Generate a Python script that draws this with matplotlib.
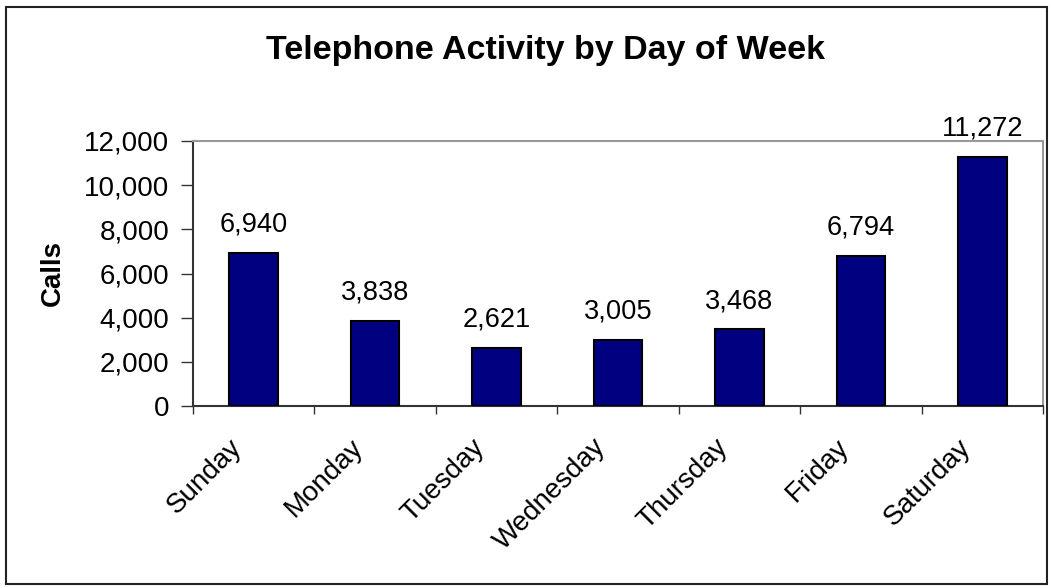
import matplotlib
matplotlib.use("Agg")
import matplotlib.pyplot as plt
import matplotlib.transforms as mtransforms
from matplotlib.patches import Rectangle
from matplotlib.ticker import FuncFormatter, MultipleLocator

days = ["Sunday", "Monday", "Tuesday", "Wednesday", "Thursday", "Friday", "Saturday"]
calls = [6940, 3838, 2621, 3005, 3468, 6794, 11272]

plt.rcParams['font.family'] = ['Liberation Sans', 'DejaVu Sans']

W, H = 1052, 588
fig = plt.figure(figsize=(W / 100, H / 100), dpi=100)
ax = fig.add_axes([193 / W, 1 - 406 / H, (1043 - 193) / W, (406 - 141) / H])

x = list(range(len(days)))
bars = ax.bar(x, calls, width=0.40, color="#000080", edgecolor="black", linewidth=1.5, zorder=3)

ax.set_xlim(-0.5, len(days) - 0.5)
ax.set_ylim(0, 12000)
ax.yaxis.set_major_locator(MultipleLocator(2000))
ax.yaxis.set_major_formatter(FuncFormatter(lambda v, p: f"{int(v):,}"))

FS = 20
for xi, v in zip(x, calls):
    ax.annotate(f"{v:,}", (xi, v), xytext=(0, 11), textcoords="offset points",
                ha="center", va="bottom", fontsize=19.6, clip_on=False)

ax.set_xticks([i + 0.5 for i in range(-1, len(days))], minor=True)
ax.set_xticks(x)
ax.set_xticklabels(days, rotation=45, ha="right", rotation_mode="anchor", fontsize=FS)
ax.tick_params(axis="x", which="major", length=0, pad=10)
ax.tick_params(axis="x", which="minor", length=6, width=1, color="#333333", direction="out")
ax.tick_params(axis="y", length=9, width=1, color="#333333", direction="out", labelsize=FS, pad=8)

shift = mtransforms.ScaledTranslation(-25 / 100, -14 / 100, fig.dpi_scale_trans)
for lab in ax.get_xticklabels():
    lab.set_transform(lab.get_transform() + shift)

for s in ["left", "bottom"]:
    ax.spines[s].set_color("#333333")
    ax.spines[s].set_linewidth(1.5)
for s in ["top", "right"]:
    ax.spines[s].set_color("#999999")
    ax.spines[s].set_linewidth(1.5)

ax.set_ylabel("Calls", fontsize=FS, fontweight="bold", labelpad=13)
fig.text(545 / W, 1 - 50 / H, "Telephone Activity by Day of Week", ha="center", va="center",
         fontsize=24.5, fontweight="bold")

fig.patches.append(Rectangle((6 / W, 1 - 584 / H), (1047 - 6) / W, (584 - 7) / H,
                             transform=fig.transFigure, fill=False, edgecolor="#222222",
                             linewidth=1.5))

fig.savefig("out.png", dpi=100)
